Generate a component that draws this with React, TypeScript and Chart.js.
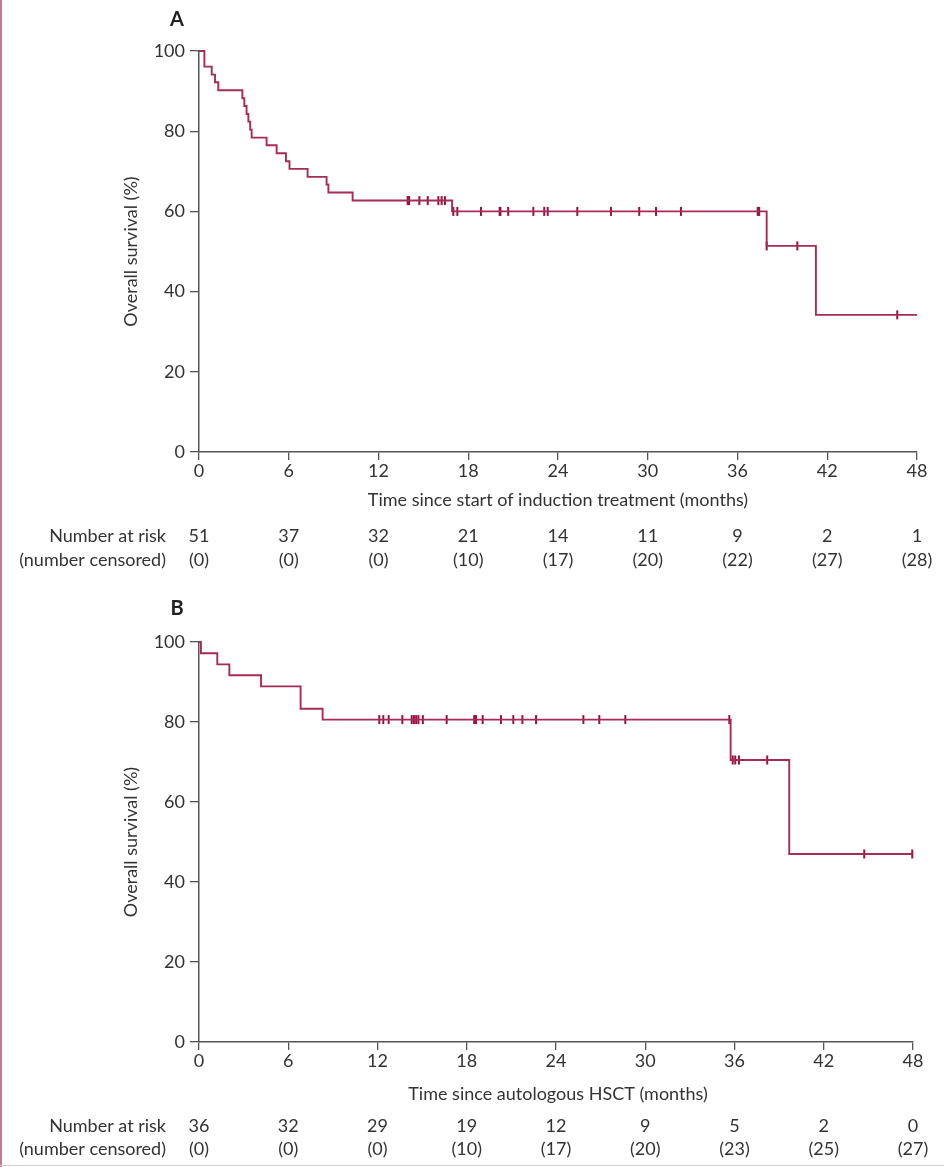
import React, { useEffect, useRef } from 'react';
import { Chart, registerables } from 'chart.js';

Chart.register(...registerables);

// ---------- data ----------
const monthTicks = [0, 6, 12, 18, 24, 30, 36, 42, 48];
const survivalTicks = [0, 20, 40, 60, 80, 100];

// Panel A: time since start of induction treatment
const eventTimesA = [0, 0.36, 0.85, 1.07, 1.29, 2.9, 3.03, 3.18, 3.3, 3.42, 3.52, 4.52, 5.19, 5.81, 6.05, 7.26, 8.53, 8.65, 10.27, 16.92, 37.95, 41.24];
const survivalA = [100, 96.1, 94.1, 92.2, 90.2, 88.2, 86.3, 84.3, 82.4, 80.4, 78.4, 76.5, 74.5, 72.5, 70.6, 68.6, 66.7, 64.7, 62.7, 60.0, 51.4, 34.2];
const censorTimesA = [13.95, 14.0, 14.05, 14.73, 15.29, 16.0, 16.22, 16.44, 17.0, 17.27, 18.85, 20.1, 20.15, 20.67, 22.35, 23.08, 23.31, 25.29, 27.54, 29.43, 30.55, 32.22, 37.35, 37.45, 37.95, 40.0, 46.68];
const endTimeA = 48;
const atRiskA = ['51', '37', '32', '21', '14', '11', '9', '2', '1'];
const censoredA = ['(0)', '(0)', '(0)', '(10)', '(17)', '(20)', '(22)', '(27)', '(28)'];

// Panel B: time since autologous HSCT
const eventTimesB = [0, 0.13, 1.23, 2.04, 4.17, 6.83, 8.31, 35.74, 39.68];
const survivalB = [100, 97.2, 94.4, 91.7, 88.9, 83.3, 80.6, 70.5, 47.0];
const censorTimesB = [12.12, 12.39, 12.75, 13.67, 14.3, 14.45, 14.6, 14.75, 15.05, 16.65, 18.5, 18.62, 19.07, 20.3, 21.13, 21.74, 22.66, 25.84, 26.91, 28.66, 35.65, 35.88, 36.05, 36.3, 38.2, 44.72, 47.95];
const endTimeB = 47.95;
const atRiskB = ['36', '32', '29', '19', '12', '9', '5', '2', '0'];
const censoredB = ['(0)', '(0)', '(0)', '(10)', '(17)', '(20)', '(23)', '(25)', '(27)'];

// ---------- styles ----------
const FONT = "Lato, 'Open Sans', sans-serif";
const TEXT = '#333333';
const AXIS = '#555555';
const LINE = '#a62b55';
const MARK = '#9a1044';
const FS = 18;

function stepValue(times: number[], surv: number[], t: number) {
  let v = surv[0];
  for (let i = 0; i < times.length; i++) if (times[i] <= t) v = surv[i];
  return v;
}

interface PanelCfg {
  letter: string;
  times: number[];
  surv: number[];
  censors: number[];
  endTime: number;
  atRisk: string[];
  censored: string[];
  xTitle: string;
  width: number;
  height: number;
  padTop: number;
  padRight: number;
  xAxisHeight: number;
  letterY: number;
  xTitleY: number;
  row1Y: number;
  row2Y: number;
}

function Panel({ cfg }: { cfg: PanelCfg }) {
  const ref = useRef<HTMLCanvasElement | null>(null);
  useEffect(() => {
    if (!ref.current) return;
    const lineData = cfg.times.map((t, i) => ({ x: t, y: cfg.surv[i] }));
    lineData.push({ x: cfg.endTime, y: cfg.surv[cfg.surv.length - 1] });
    const censorData = cfg.censors.map((t) => ({ x: t, y: stepValue(cfg.times, cfg.surv, t) }));

    const extras = {
      id: 'kmExtras' + cfg.letter,
      afterDraw(chart: any) {
        const ctx = chart.ctx as CanvasRenderingContext2D;
        const xs = chart.scales.x;
        const area = chart.chartArea;
        ctx.save();
        ctx.fillStyle = '#222';
        ctx.font = `bold 20px ${FONT}`;
        ctx.textAlign = 'center';
        ctx.textBaseline = 'middle';
        ctx.fillText(cfg.letter, 177, cfg.letterY);

        ctx.fillStyle = TEXT;
        ctx.font = `${FS}px ${FONT}`;
        // y title
        ctx.save();
        ctx.translate(131, (area.top + area.bottom) / 2);
        ctx.rotate(-Math.PI / 2);
        ctx.fillText('Overall survival (%)', 0, 0);
        ctx.restore();
        // x title
        ctx.fillText(cfg.xTitle, 558, cfg.xTitleY);
        // risk table
        ctx.textAlign = 'right';
        ctx.fillText('Number at risk', 166, cfg.row1Y);
        ctx.fillText('(number censored)', 166, cfg.row2Y);
        ctx.textAlign = 'center';
        monthTicks.forEach((m, i) => {
          const px = xs.getPixelForValue(m);
          ctx.fillText(cfg.atRisk[i], px, cfg.row1Y);
          ctx.fillText(cfg.censored[i], px, cfg.row2Y);
        });
        ctx.restore();
      },
    };

    const chart = new Chart(ref.current, {
      type: 'line',
      data: {
        datasets: [
          {
            label: 'survival',
            data: lineData,
            stepped: true,
            borderColor: LINE,
            borderWidth: 1.9,
            pointRadius: 0,
            fill: false,
            clip: false as any,
          },
          {
            label: 'censored',
            data: censorData,
            showLine: false,
            pointStyle: 'line',
            rotation: 90,
            pointRadius: 4.5,
            pointBorderWidth: 2,
            pointBorderColor: MARK,
            pointBackgroundColor: MARK,
            borderColor: MARK,
            clip: false as any,
          } as any,
        ],
      },
      options: {
        animation: false,
        responsive: false,
        maintainAspectRatio: false,
        layout: { padding: { top: cfg.padTop, right: cfg.padRight, left: 0, bottom: 0 } },
        plugins: { legend: { display: false }, tooltip: { enabled: false }, title: { display: false } },
        scales: {
          x: {
            type: 'linear',
            min: 0,
            max: 48,
            afterBuildTicks: (s: any) => {
              s.ticks = monthTicks.map((v) => ({ value: v }));
            },
            afterFit: (s: any) => {
              s.height = cfg.xAxisHeight;
            },
            ticks: { color: TEXT, font: { family: FONT, size: FS }, padding: 0, maxRotation: 0, autoSkip: false },
            grid: { drawOnChartArea: false, drawTicks: true, tickLength: 8, color: AXIS, lineWidth: 1.3 },
            border: { display: true, color: AXIS, width: 1.5 },
          },
          y: {
            type: 'linear',
            min: 0,
            max: 100,
            afterBuildTicks: (s: any) => {
              s.ticks = survivalTicks.map((v) => ({ value: v }));
            },
            afterFit: (s: any) => {
              s.width = 199;
            },
            ticks: { color: TEXT, font: { family: FONT, size: FS }, padding: 5 },
            grid: { drawOnChartArea: false, drawTicks: true, tickLength: 9, color: AXIS, lineWidth: 1.3 },
            border: { display: true, color: AXIS, width: 1.5 },
          },
        },
      } as any,
      plugins: [extras],
    });
    return () => chart.destroy();
  }, [cfg]);
  return <canvas ref={ref} width={cfg.width} height={cfg.height} style={{ display: 'block' }} />;
}

const panelA: PanelCfg = {
  letter: 'A',
  times: eventTimesA,
  surv: survivalA,
  censors: censorTimesA,
  endTime: endTimeA,
  atRisk: atRiskA,
  censored: censoredA,
  xTitle: 'Time since start of induction treatment (months)',
  width: 944,
  height: 583,
  padTop: 51,
  padRight: 27,
  xAxisHeight: 131,
  letterY: 20,
  xTitleY: 500,
  row1Y: 536,
  row2Y: 560,
};

const panelB: PanelCfg = {
  letter: 'B',
  times: eventTimesB,
  surv: survivalB,
  censors: censorTimesB,
  endTime: endTimeB,
  atRisk: atRiskB,
  censored: censoredB,
  xTitle: 'Time since autologous HSCT (months)',
  width: 944,
  height: 584,
  padTop: 59,
  padRight: 31,
  xAxisHeight: 125,
  letterY: 26,
  xTitleY: 511,
  row1Y: 543,
  row2Y: 566,
};

export default function App() {
  return (
    <div style={{ position: 'absolute', left: 0, top: 0, width: 944, height: 1167, background: '#fff', overflow: 'hidden' }}>
      <Panel cfg={panelA} />
      <Panel cfg={panelB} />
      <div style={{ position: 'absolute', left: 0, top: 0, width: 2, height: 1167, background: '#c77a94' }} />
      <div style={{ position: 'absolute', left: 0, top: 1165, width: 944, height: 1, background: '#d0d0d0' }} />
    </div>
  );
}
